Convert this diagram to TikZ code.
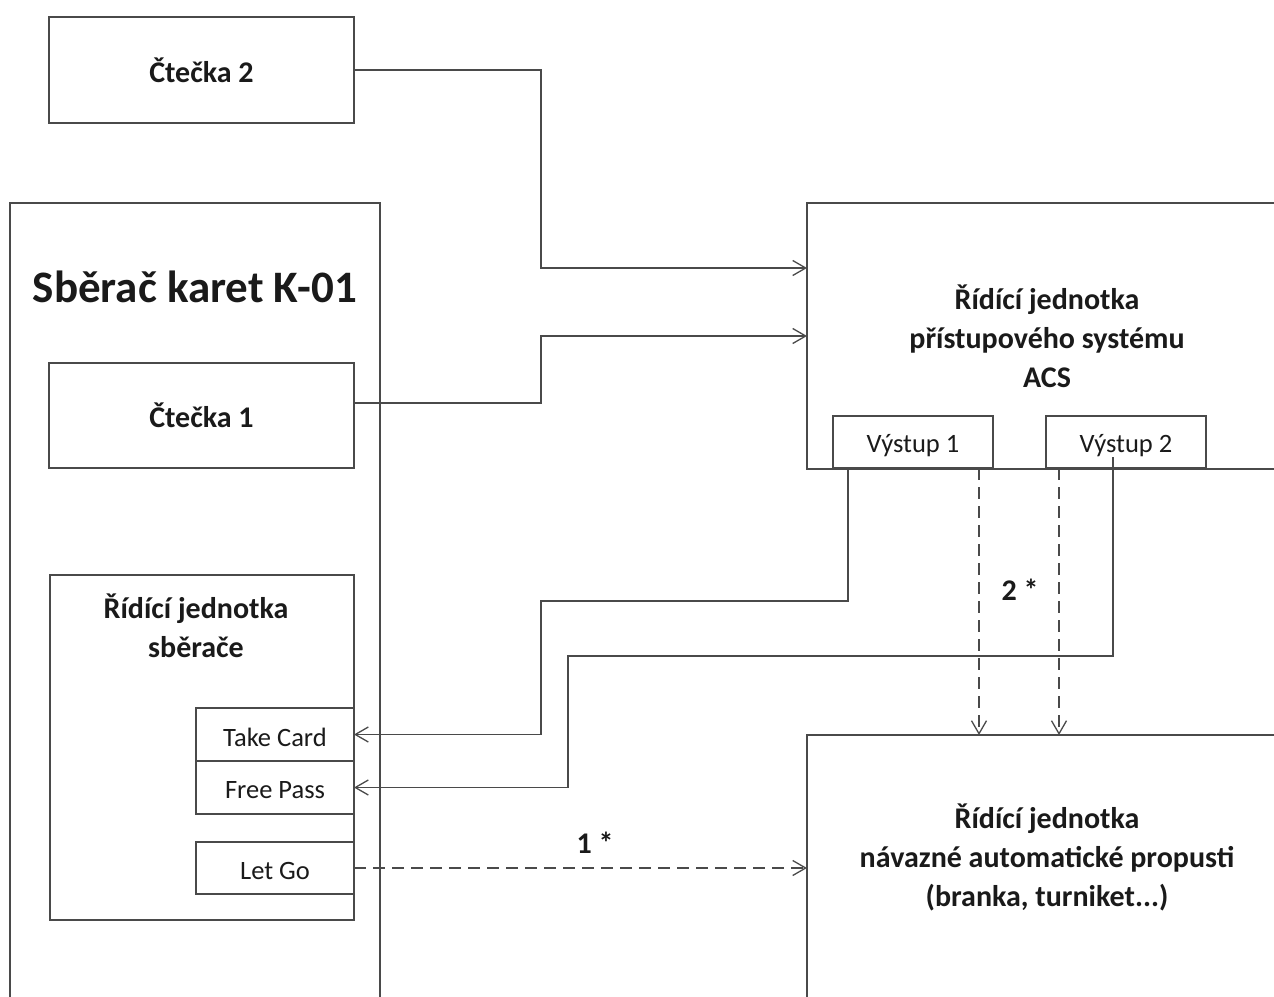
\documentclass[tikz,border=0pt]{standalone}
\usepackage{fontspec}
\setmainfont{Carlito}
\usetikzlibrary{arrows.meta}
\definecolor{lc}{HTML}{4A4A4A}
\definecolor{tcol}{HTML}{1A1A1A}
\begin{document}
\begin{tikzpicture}[x=1pt,y=-1pt,
  box/.style={draw=lc,line width=1.4pt,inner sep=0pt,outer sep=0pt,anchor=north west},
  bl/.style={font=\fontsize{30}{39}\selectfont\bfseries,text=tcol,align=center},
  rl/.style={font=\fontsize{26.5}{30}\selectfont,text=tcol},
  wire/.style={draw=lc,line width=1.4pt},
  arr/.style={wire,-{Straight Barb[length=13pt,width=15pt,line width=1.3pt]}},
  dsh/.style={dash pattern=on 12pt off 7pt}]
\path[clip] (0,0) rectangle (1274,996);
\fill[white] (0,0) rectangle (1274,996);

% outer boxes
\node[box,minimum width=370pt,minimum height=900pt] (sb) at (10,203) {};
\node[font=\fontsize{45}{50}\selectfont\bfseries,text=tcol] (title) at (195,287) {Sběrač karet K-01};

\node[box,minimum width=305pt,minimum height=106pt] (c2) at (49,17) {};
\node[bl] (c2t) at (c2.center) {Čtečka 2};
\node[box,minimum width=305pt,minimum height=105pt] (c1) at (49,363) {};
\node[bl] (c1t) at (c1.center) {Čtečka 1};

\node[box,minimum width=304pt,minimum height=345pt] (rs) at (50,575) {};
\node[bl,anchor=north] (rst) at (196,590) {Řídící jednotka\\sběrače};

\node[box,minimum width=158pt,minimum height=53pt] (tc) at (196,708) {};
\node[rl] at ([yshift=-2.5pt]tc.center) {Take Card};
\node[box,minimum width=158pt,minimum height=53pt] (fp) at (196,761) {};
\node[rl] at ([yshift=-2.5pt]fp.center) {Free Pass};
\node[box,minimum width=158pt,minimum height=52pt] (lg) at (196,842) {};
\node[rl] at ([yshift=-2.5pt]lg.center) {Let Go};

\node[box,minimum width=490pt,minimum height=266pt] (acs) at (807,203) {};
\node[bl] (acst) at (1047,336) {Řídící jednotka\\přístupového systému\\ACS};
\node[box,minimum width=160pt,minimum height=52pt,fill=white] (v1) at (833,416) {};
\node[rl] at ([yshift=-3.5pt]v1.center) {Výstup 1};
\node[box,minimum width=160pt,minimum height=52pt,fill=white] (v2) at (1046,416) {};
\node[rl] at ([yshift=-3.5pt]v2.center) {Výstup 2};

\node[box,minimum width=490pt,minimum height=400pt] (dst) at (807,735) {};
\node[bl] (dstt) at (1047,857) {Řídící jednotka\\návazné automatické propusti\\(branka, turniket...)};

% connectors
\draw[arr] (c2.east) -- (c2.east -| 541,0) |- (acs.west |- 0,268);
\draw[arr] (c1.east |- 0,403) -- (541,403) |- (acs.west |- 0,336);
\draw[arr] (v1.south -| 848,0) |- (541,601) |- (tc.east);
\draw[arr] (1113,457) |- (568,656) |- (fp.east);
\draw[arr,dsh] (v1.south -| 979,0) -- (dst.north -| 979,0);
\draw[arr,dsh] (v2.south -| 1059,0) -- (dst.north -| 1059,0);
\draw[arr,dsh] (lg.east) -- (dst.west |- lg.east);

\node[bl] (l1) at (595,843) {1 *};
\node[bl] (l2) at (1020,590) {2 *};
\end{tikzpicture}
\end{document}
